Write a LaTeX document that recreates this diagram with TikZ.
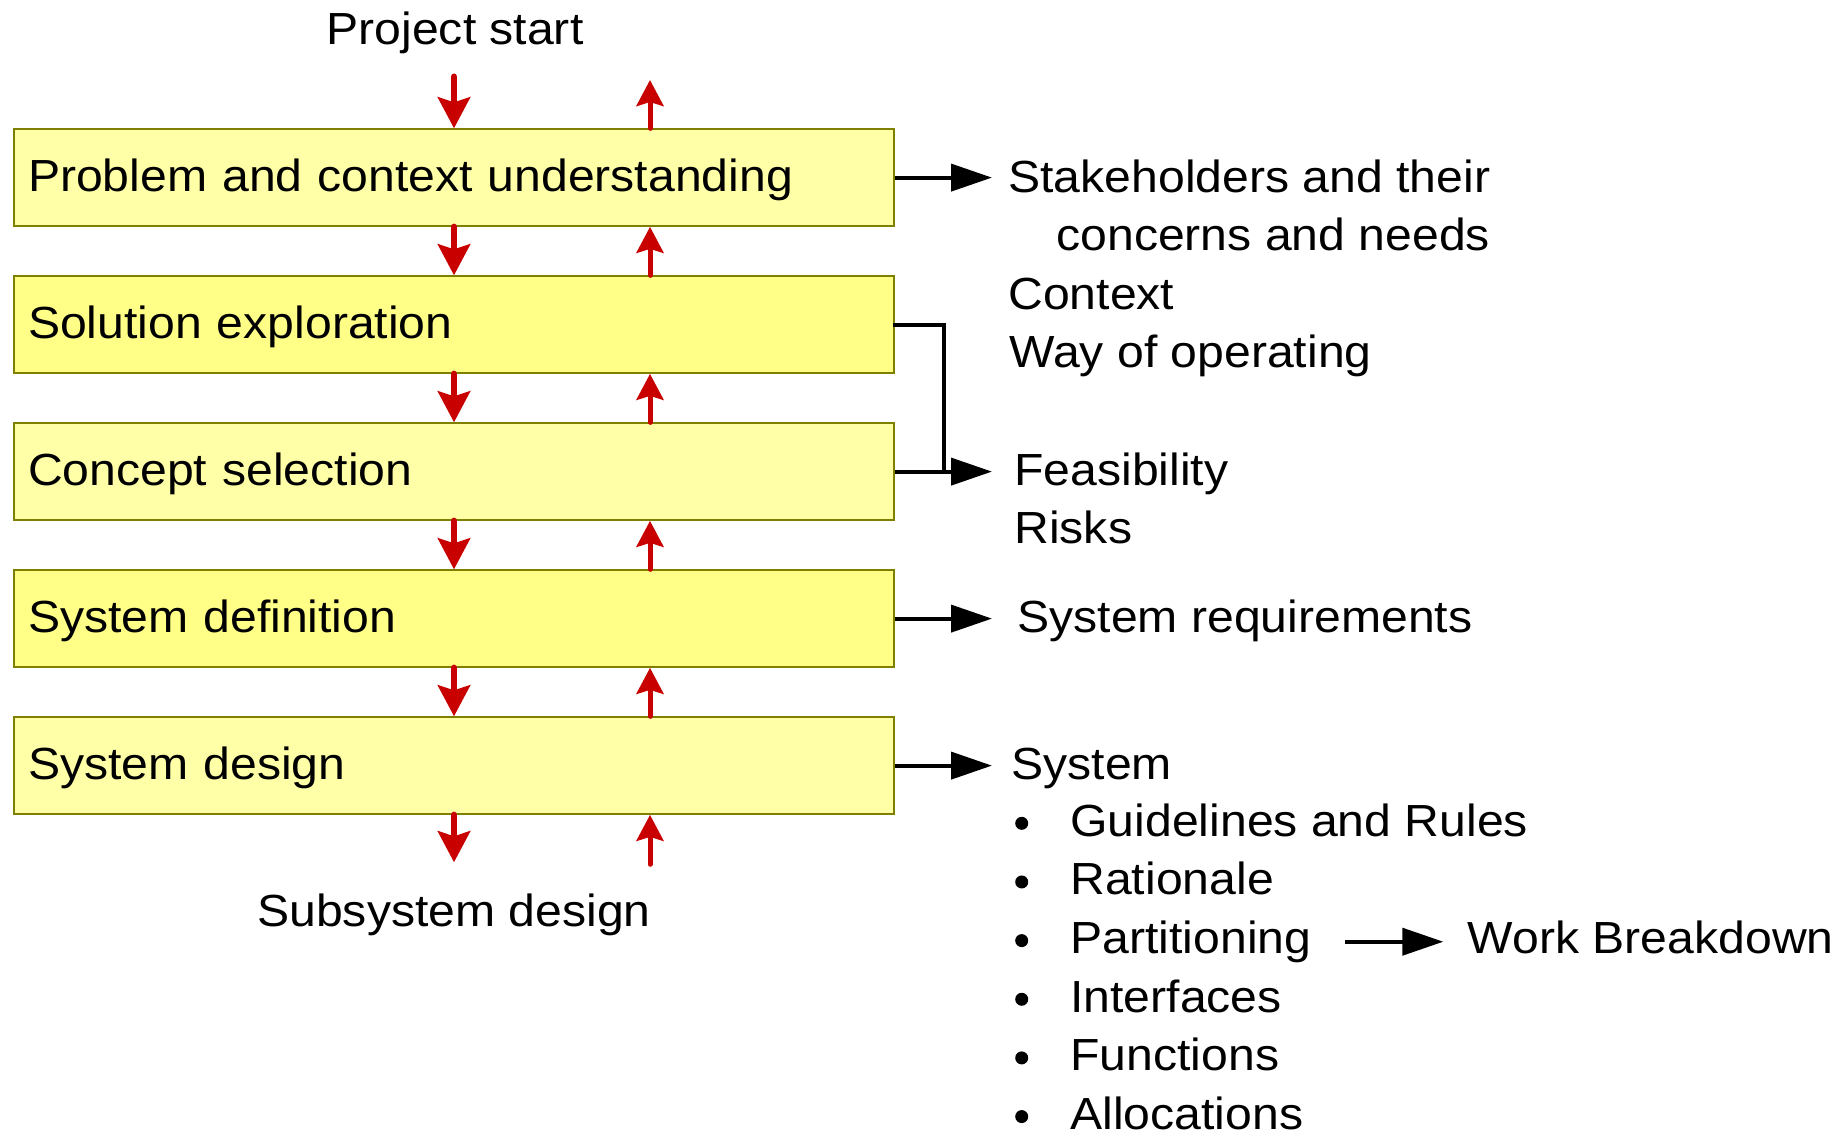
\documentclass[tikz,border=0pt]{standalone}
\usepackage{fontspec}
\setmainfont{Liberation Sans}[FakeStretch=1.07]
\usetikzlibrary{arrows.meta,calc}
\definecolor{redarr}{RGB}{200,0,0}
\definecolor{olivebd}{RGB}{128,128,0}
\definecolor{paleyel}{RGB}{255,255,168}
\definecolor{deepyel}{RGB}{255,255,136}
\begin{document}
\begin{tikzpicture}[x=0.5pt,y=-0.5pt,
  every node/.style={font=\fontsize{22.5pt}{29.3pt}\selectfont},
  phase/.style={draw=olivebd, line width=1pt, minimum width=440pt, minimum height=48.25pt,
    text width=426pt, inner xsep=7pt, inner ysep=0pt, align=left, text height=16pt, text depth=2.5pt},
  txt/.style={anchor=base west, inner sep=0pt},
  ctxt/.style={anchor=base, inner sep=0pt},
  downarr/.style={draw=redarr, line width=3.25pt, line cap=round, -{Stealth[length=15.5pt,width=16pt,inset=2.5pt]}},
  uparr/.style={draw=redarr, line width=2.5pt, line cap=round, -{Stealth[length=13pt,width=13.5pt,inset=2pt]}},
  outarr/.style={draw=black, line width=2pt, -{Triangle[length=20.5pt,width=13.5pt]}},
  link/.style={draw=black, line width=2pt, line cap=rect},
  bulletdot/.style={circle, fill=black, inner sep=0pt, minimum size=6.5pt}]
\useasboundingbox (0,0) rectangle (1845,1136);

\node[phase, fill=paleyel] (b1) at (454,177.6) {Problem and context understanding};
\node[phase, fill=deepyel] (b2) at (454,324.6) {Solution exploration};
\node[phase, fill=paleyel] (b3) at (454,471.6) {Concept selection};
\node[phase, fill=deepyel] (b4) at (454,618.6) {System definition};
\node[phase, fill=paleyel] (b5) at (454,765.6) {System design};

\coordinate (ux) at (650,0);
\coordinate (tipx) at (992,0);
\coordinate (jx) at (943.5,0);

\node[ctxt] (start) at (455,44.5) {Project start};
\coordinate (dtop) at (454,76.7);
\coordinate (utop) at (650,80);
\draw[downarr] (dtop) -- (b1.north);
\draw[uparr] (b1.north -| ux) -- (utop);

\foreach \a/\b in {b1/b2,b2/b3,b3/b4,b4/b5} {
  \draw[downarr] (\a.south) -- (\b.north);
  \draw[uparr] (\b.north -| ux) -- (\a.south -| ux);
}

\coordinate (dbot) at (454,862.3);
\coordinate (ubot) at (650,864.3);
\draw[downarr] (b5.south) -- (dbot);
\draw[uparr] (ubot) -- (b5.south -| ux);
\node[ctxt] (sub) at (454,926.5) {Subsystem design};

\draw[outarr] (b1.east) -- (b1.east -| tipx);
\draw[link] (b2.east) -| (b3.east -| jx);
\draw[outarr] (b3.east) -- (b3.east -| tipx);
\draw[outarr] (b4.east) -- (b4.east -| tipx);
\draw[outarr] (b5.east) -- (b5.east -| tipx);

\node[txt] (t1) at (1008,192) {Stakeholders and their};
\node[txt] (t2) at (1056,250.6) {concerns and needs};
\node[txt] (t3) at (1008,309.2) {Context};
\node[txt] (t4) at (1009,367.8) {Way of operating};
\node[txt] (t5) at (1014,485.7) {Feasibility};
\node[txt] (t6) at (1014,543.3) {Risks};
\node[txt] (t7) at (1017,632.5) {System requirements};
\node[txt] (t8) at (1011,779.5) {System};

\foreach \k/\s in {1/Guidelines and Rules, 2/Rationale, 3/Partitioning, 4/Interfaces, 5/Functions, 6/Allocations} {
  \node[txt] (i\k) at (1070,{836.2+58.65*(\k-1)}) {\s};
  \node[bulletdot] (d\k) at (1021.7,{823.3+58.65*(\k-1)}) {};
}

\node[txt] (wb) at (1467.5,953.5) {Work Breakdown};
\coordinate (pa) at (1345,941.7);
\coordinate (pb) at (1443.3,941.7);
\draw[outarr] (pa) -- (pb);
\end{tikzpicture}
\end{document}
